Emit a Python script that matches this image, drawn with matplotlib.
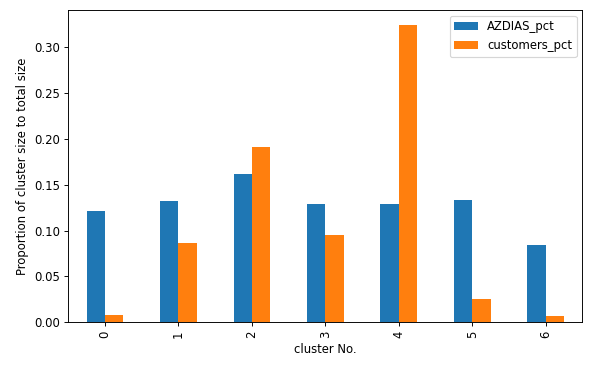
import matplotlib
matplotlib.use("Agg")
import matplotlib.pyplot as plt
import pandas as pd

clusters = [0, 1, 2, 3, 4, 5, 6]
azdias_pct = [0.1217, 0.132, 0.1618, 0.129, 0.129, 0.1334, 0.0843]
customers_pct = [0.008, 0.0862, 0.1912, 0.0949, 0.3243, 0.0254, 0.0065]

df = pd.DataFrame({'AZDIAS_pct': azdias_pct, 'customers_pct': customers_pct}, index=clusters)

# source was drawn bigger and shrunk, so use a lower dpi to get the same text size
fig, ax = plt.subplots(figsize=(615 / 84, 365 / 84), dpi=84)
df.plot(kind='bar', ax=ax)
ax.set_xlabel('cluster No.')
ax.set_ylabel('Proportion of cluster size to total size')
fig.subplots_adjust(left=0.111, right=0.947, top=0.973, bottom=0.117)
fig.savefig('out.png', dpi=84)
